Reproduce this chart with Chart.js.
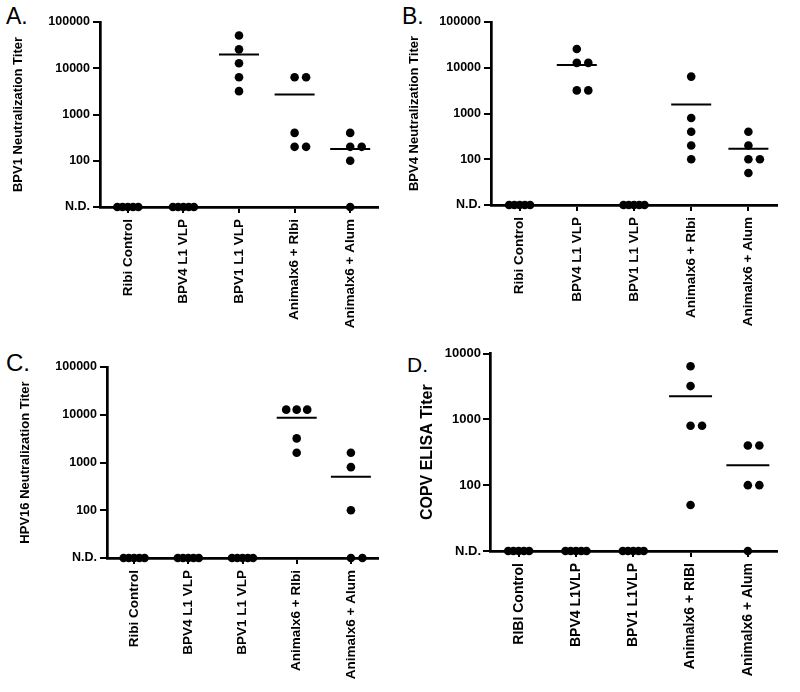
<!DOCTYPE html>
<html><head><meta charset="utf-8">
<script src="https://cdn.jsdelivr.net/npm/chart.js@4.4.1/dist/chart.umd.min.js"></script>
<style>
body{margin:0;background:#fff;width:800px;height:692px;position:relative;overflow:hidden;font-family:"Liberation Sans",Arial,sans-serif;}
canvas{position:absolute;}
.lbl{position:absolute;line-height:1;color:#000;font-family:"Liberation Sans",Arial,sans-serif;}
</style></head><body>
<div class="lbl" style="left:6px;top:5px;font-size:23px">A.</div>
<div class="lbl" style="left:402px;top:5px;font-size:23px">B.</div>
<div class="lbl" style="left:6px;top:351px;font-size:24px">C.</div>
<div class="lbl" style="left:407px;top:354px;font-size:21px">D.</div>
<canvas id="cA" width="400" height="330" style="left:0;top:0"></canvas>
<canvas id="cB" width="400" height="330" style="left:400px;top:0"></canvas>
<canvas id="cC" width="400" height="362" style="left:0;top:330px"></canvas>
<canvas id="cD" width="400" height="362" style="left:400px;top:330px"></canvas>
<script>
// ---- data ----
const ND = 0;          // not detected
const ND_LEVEL = 10;   // axis level where N.D. is drawn

const catsABC = ['Ribi Control', 'BPV4 L1 VLP', 'BPV1 L1 VLP', 'Animalx6 + RIbi', 'Animalx6 + Alum'];
const catsD = ['RIBI Control', 'BPV4 L1VLP', 'BPV1 L1VLP', 'Animalx6 + RIBI', 'Animalx6 + Alum'];

const ticksABC = [10, 100, 1000, 10000, 100000];
const tickLabelsABC = ['N.D.', '100', '1000', '10000', '100000'];
const ticksD = [10, 100, 1000, 10000];
const tickLabelsD = ['N.D.', '100', '1000', '10000'];

// Panel A: BPV1 neutralization titer
const aRibiControl = [ND, ND, ND, ND, ND];
const aBPV4 = [ND, ND, ND, ND, ND];
const aBPV1 = [51200, 25600, 12800, 6400, 3200];
const aAnimalRibi = [6400, 6400, 400, 200, 200];
const aAnimalAlum = [400, 200, 200, 100, ND];

// Panel B: BPV4 neutralization titer
const bRibiControl = [ND, ND, ND, ND, ND];
const bBPV4 = [25600, 12800, 12800, 3200, 3200];
const bBPV1 = [ND, ND, ND, ND, ND];
const bAnimalRibi = [6400, 800, 400, 200, 100];
const bAnimalAlum = [400, 200, 100, 100, 50];

// Panel C: HPV16 neutralization titer
const cRibiControl = [ND, ND, ND, ND, ND];
const cBPV4 = [ND, ND, ND, ND, ND];
const cBPV1 = [ND, ND, ND, ND, ND];
const cAnimalRibi = [12800, 12800, 12800, 3200, 1600];
const cAnimalAlum = [1600, 800, 100, ND, ND];

// Panel D: COPV ELISA titer
const dRibiControl = [ND, ND, ND, ND, ND];
const dBPV4 = [ND, ND, ND, ND, ND];
const dBPV1 = [ND, ND, ND, ND, ND];
const dAnimalRibi = [6400, 3200, 800, 800, 50];
const dAnimalAlum = [400, 400, 100, 100, ND];

// ---- helpers ----
const FONT = '"Liberation Sans", Arial, sans-serif';
function mean(a) { return a.reduce((s, v) => s + v, 0) / a.length; }
function swarmOffsets(values) {
  const groups = {};
  values.forEach((v, j) => { (groups[v] = groups[v] || []).push(j); });
  const off = new Array(values.length).fill(0);
  Object.values(groups).forEach(idx => {
    const n = idx.length;
    if (n < 2) return;
    const s = Math.min(11.5, 21 / (n - 1));
    const start = -Math.floor((n - 1) / 2);
    idx.forEach((j, k) => { off[j] = (start + k) * s; });
  });
  return off;
}
const swarmPlugin = {
  id: 'swarm',
  afterDatasetsUpdate(chart) {
    chart.data.datasets.forEach((ds, d) => {
      if (!ds.swarmPx) return;
      const meta = chart.getDatasetMeta(d);
      meta.data.forEach((el, j) => { el.x += ds.swarmPx[j]; });
    });
  }
};

function makePanel(id, cats, groups, yTicks, yTickLabels, title, g) {
  const datasets = groups.map((vals, i) => ({
    data: vals.map(v => ({ x: i, y: v === ND ? ND_LEVEL : v })),
    swarmPx: swarmOffsets(vals),
    pointRadius: 4.3, pointHoverRadius: 4.3, pointBorderWidth: 0,
    backgroundColor: '#000', borderColor: '#000', clip: false
  }));
  datasets.push({
    data: groups.map((vals, i) => ({ x: i, y: mean(vals) })).filter(p => p.y > 0),
    pointStyle: 'line', pointRadius: g.meanR, pointHoverRadius: g.meanR,
    pointBorderWidth: 2, borderWidth: 2, borderColor: '#000', backgroundColor: '#000', clip: false
  });
  new Chart(document.getElementById(id), {
    type: 'scatter',
    data: { datasets },
    plugins: [swarmPlugin],
    options: {
      responsive: false, animation: false, devicePixelRatio: 1,
      layout: { padding: { left: 0, top: g.padTop, right: g.padRight, bottom: 0 } },
      plugins: { legend: { display: false }, tooltip: { enabled: false } },
      events: [],
      scales: {
        x: {
          type: 'linear', min: -0.5, max: cats.length - 0.5,
          afterBuildTicks: s => { s.ticks = cats.map((c, i) => ({ value: i })); },
          afterFit: s => { s.height = g.xHeight; },
          ticks: {
            autoSkip: false, minRotation: 90, maxRotation: 90, padding: 6,
            color: '#000', font: { family: FONT, size: g.catSize, weight: 'bold' },
            callback: v => cats[v]
          },
          grid: { drawOnChartArea: false, drawTicks: true, tickLength: 6, color: '#000', lineWidth: 2 },
          border: { display: true, color: '#000', width: 2.7 }
        },
        y: {
          type: 'logarithmic', min: yTicks[0], max: yTicks[yTicks.length - 1],
          afterBuildTicks: s => { s.ticks = yTicks.map(v => ({ value: v })); },
          afterFit: s => { s.width = g.yWidth; },
          ticks: {
            autoSkip: false, padding: g.tickPad, color: '#000',
            font: { family: FONT, size: g.tickSize, weight: 'bold' },
            callback: (v, i) => yTickLabels[i]
          },
          grid: { drawOnChartArea: false, drawTicks: true, tickLength: 7, color: '#000', lineWidth: 2 },
          border: { display: true, color: '#000', width: 2.7 },
          title: {
            display: true, text: title, color: '#000',
            font: { family: FONT, size: g.titleSize, weight: 'bold' },
            padding: { top: g.titlePad, bottom: 0 }
          }
        }
      }
    }
  });
}

makePanel('cA', catsABC, [aRibiControl, aBPV4, aBPV1, aAnimalRibi, aAnimalAlum], ticksABC, tickLabelsABC,
  'BPV1 Neutralization Titer',
  { yWidth: 100, padTop: 16, padRight: 13, xHeight: 123, titlePad: 11, titleSize: 13, tickSize: 12.5, tickPad: 3, catSize: 13.5, meanR: 20 });
makePanel('cB', catsABC, [bRibiControl, bBPV4, bBPV1, bAnimalRibi, bAnimalAlum], ticksABC, tickLabelsABC,
  'BPV4 Neutralization Titer',
  { yWidth: 91, padTop: 15, padRight: 23, xHeight: 125, titlePad: 7, titleSize: 13, tickSize: 12.5, tickPad: 3, catSize: 13.5, meanR: 20 });
makePanel('cC', catsABC, [cRibiControl, cBPV4, cBPV1, cAnimalRibi, cAnimalAlum], ticksABC, tickLabelsABC,
  'HPV16 Neutralization Titer',
  { yWidth: 107, padTop: 37, padRight: 10, xHeight: 134, titlePad: 18, titleSize: 13, tickSize: 12.5, tickPad: 3, catSize: 13.5, meanR: 20 });
makePanel('cD', catsD, [dRibiControl, dBPV4, dBPV1, dAnimalRibi, dAnimalAlum], ticksD, tickLabelsD,
  'COPV ELISA Titer',
  { yWidth: 90, padTop: 21, padRight: 10, xHeight: 141, titlePad: 18, titleSize: 16, tickSize: 13, tickPad: 2, catSize: 14, meanR: 21.5 });
</script>
</body></html>
